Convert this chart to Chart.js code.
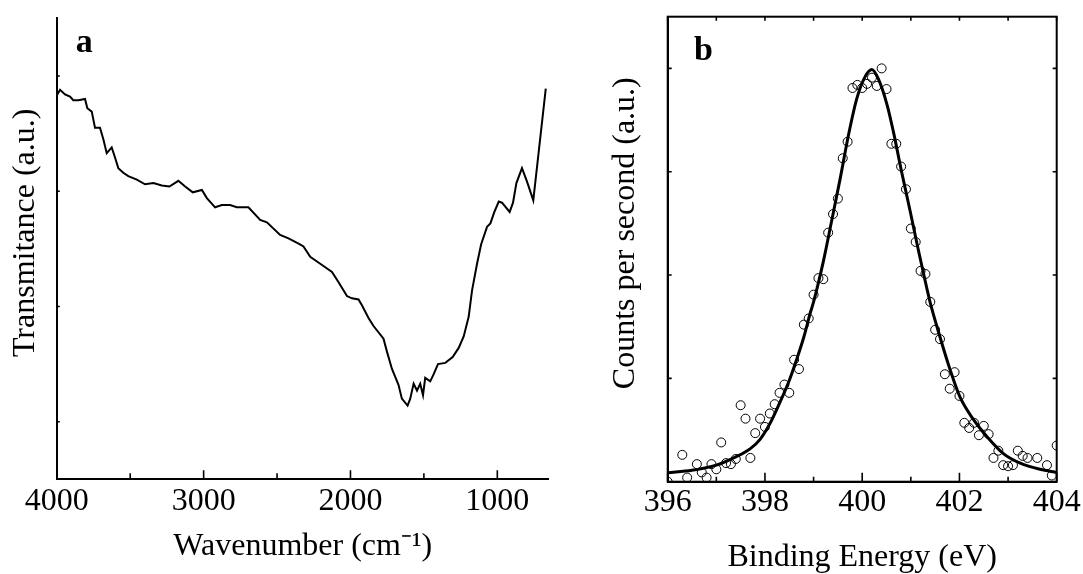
<!DOCTYPE html>
<html><head><meta charset="utf-8">
<script src="https://cdn.jsdelivr.net/npm/chart.js@4.4.0/dist/chart.umd.min.js"></script>
<style>
html,body{margin:0;padding:0;background:#fff;overflow:hidden;}
#wa{position:absolute;left:0;top:0;width:560px;height:574px;}
#wb{position:absolute;left:560px;top:0;width:523px;height:574px;}
</style></head><body>
<div id="wa"><canvas id="ca"></canvas></div>
<div id="wb"><canvas id="cb"></canvas></div>
<script>
// ---- Panel a: FTIR spectrum ----
const wavenumber = [4000,3978,3944,3910,3888,3853,3808,3792,3762,3740,3706,3683,3660,3626,3603,3581,3547,3513,3455,3399,3342,3285,3233,3172,3126,3074,3012,2978,2922,2876,2820,2774,2695,2615,2569,2479,2422,2347,2320,2274,2206,2126,2081,2024,1990,1945,1922,1877,1843,1775,1752,1718,1673,1650,1611,1593,1570,1547,1525,1506,1491,1457,1434,1404,1354,1304,1263,1229,1195,1172,1138,1110,1070,1047,1020,990,968,916,893,870,832,797,755,670];
const transmittance = [3.83,3.88,3.84,3.82,3.79,3.79,3.80,3.72,3.69,3.55,3.55,3.45,3.33,3.38,3.29,3.20,3.16,3.13,3.10,3.06,3.07,3.05,3.04,3.09,3.04,2.99,3.01,2.94,2.86,2.88,2.88,2.86,2.86,2.75,2.73,2.62,2.59,2.54,2.52,2.43,2.37,2.30,2.21,2.09,2.07,2.06,2.01,1.90,1.83,1.72,1.61,1.46,1.32,1.20,1.14,1.20,1.33,1.27,1.33,1.23,1.38,1.35,1.41,1.50,1.51,1.56,1.64,1.74,1.91,2.14,2.37,2.54,2.69,2.72,2.82,2.91,2.90,2.82,2.90,3.07,3.20,3.08,2.92,3.89];
const ftirTickLabels = [4000,3000,2000,1000];
const ftirMinorTicks = [3500,2500,1500];
const ftirYTicks = [1,2,3,4];

// ---- Panel b: XPS N1s ----
const bindingEnergy = [396.0,396.3,396.4,396.6,396.7,396.8,396.9,397.0,397.1,397.2,397.3,397.4,397.5,397.6,397.7,397.8,397.9,398.0,398.1,398.2,398.3,398.4,398.5,398.6,398.7,398.8,398.9,399.0,399.1,399.2,399.3,399.4,399.5,399.6,399.7,399.8,399.9,400.0,400.1,400.2,400.3,400.4,400.5,400.6,400.7,400.8,400.9,401.0,401.1,401.2,401.3,401.4,401.5,401.6,401.7,401.8,401.9,402.0,402.1,402.2,402.3,402.4,402.5,402.6,402.7,402.8,402.9,403.0,403.1,403.2,403.3,403.4,403.6,403.8,403.9,404.0];
const counts = [0.00,0.26,0.04,0.17,0.09,0.04,0.17,0.12,0.38,0.18,0.17,0.22,0.74,0.61,0.23,0.47,0.61,0.53,0.66,0.75,0.86,0.94,0.86,1.18,1.09,1.52,1.58,1.81,1.97,1.96,2.41,2.59,2.74,3.13,3.29,3.81,3.84,3.81,3.85,3.91,3.83,4.00,3.80,3.27,3.27,3.05,2.83,2.45,2.32,2.04,2.01,1.74,1.47,1.38,1.04,0.90,1.06,0.83,0.57,0.52,0.57,0.45,0.54,0.46,0.23,0.30,0.16,0.15,0.16,0.30,0.25,0.23,0.23,0.16,0.06,0.35];
const fitEnergy = [396.0,396.5,397.0,397.4,397.7,397.9,398.1,398.3,398.5,398.65,398.8,398.93,399.0,399.2,399.37,399.55,399.72,399.89,400.06,400.2,400.33,400.51,400.64,400.81,400.99,401.16,401.33,401.4,401.6,401.81,402.01,402.29,402.56,402.91,403.25,403.66,404.0];
const fitCounts = [0.087,0.11,0.16,0.24,0.32,0.41,0.56,0.76,0.98,1.18,1.40,1.63,1.74,2.13,2.52,2.94,3.36,3.71,3.92,3.99,3.90,3.65,3.39,3.00,2.61,2.23,1.87,1.73,1.40,1.08,0.82,0.60,0.44,0.27,0.18,0.12,0.09];
const xpsMajorTicks = [396,398,400,402,404];
const xpsMinorTicks = [397,399,401,403];
const xpsYTicks = [1,2,3,4];

const FAMILY = "'Liberation Serif','Times New Roman',serif";

const deco = {
  id: 'deco',
  afterDraw(chart, args, o) {
    const ctx = chart.ctx;
    const {left, right, top, bottom} = chart.chartArea;
    const xs = chart.scales.x, ys = chart.scales.y;
    ctx.save();
    ctx.strokeStyle = '#000';
    ctx.lineWidth = 2;
    if (o.frame) ctx.strokeRect(left, top, right - left, bottom - top);
    ctx.lineWidth = 1.6;
    ctx.beginPath();
    (o.bottomMajor || []).forEach(v => { const p = xs.getPixelForValue(v); ctx.moveTo(p, bottom); ctx.lineTo(p, bottom - o.majorLen); });
    (o.bottomMinor || []).forEach(v => { const p = xs.getPixelForValue(v); ctx.moveTo(p, bottom); ctx.lineTo(p, bottom - o.minorLen); });
    (o.topTicks || []).forEach(v => { const p = xs.getPixelForValue(v); ctx.moveTo(p, top); ctx.lineTo(p, top + o.sideLen); });
    (o.leftTicks || []).forEach(v => { const p = ys.getPixelForValue(v); ctx.moveTo(left, p); ctx.lineTo(left + o.sideLen, p); });
    (o.rightTicks || []).forEach(v => { const p = ys.getPixelForValue(v); ctx.moveTo(right, p); ctx.lineTo(right - o.sideLen, p); });
    ctx.stroke();
    ctx.fillStyle = '#000';
    ctx.font = "bold 34px " + FAMILY;
    ctx.textBaseline = 'alphabetic';
    ctx.fillText(o.letter, left + o.letterDx, top + o.letterDy);
    ctx.restore();
  }
};

function axisFont(size){ return {family: FAMILY, size: size}; }
const plainLabel = v => String(v);

new Chart(document.getElementById('ca'), {
  type: 'line',
  data: { datasets: [{
    data: wavenumber.map((w, i) => ({x: w, y: transmittance[i]})),
    borderColor: '#000', borderWidth: 2, pointRadius: 0, tension: 0, fill: false
  }]},
  options: {
    responsive: true, maintainAspectRatio: false, animation: false,
    layout: {padding: {left: 0, top: 18.3, right: 11.3, bottom: 0}},
    plugins: {
      legend: {display: false}, tooltip: {enabled: false},
      deco: {frame: false, bottomMajor: ftirTickLabels, bottomMinor: ftirMinorTicks, leftTicks: ftirYTicks,
             majorLen: 9, minorLen: 6, sideLen: 3, letter: 'a', letterDx: 19, letterDy: 33.4}
    },
    scales: {
      x: {
        type: 'linear', reverse: true, min: 650, max: 4000,
        afterFit(s){ s.height = 94.7; },
        afterBuildTicks(s){ s.ticks = ftirTickLabels.map(v => ({value: v})); },
        grid: {display: true, drawOnChartArea: false, drawTicks: false},
        border: {display: true, color: '#000', width: 2},
        ticks: {color: '#000', font: axisFont(32), padding: 3, maxRotation: 0, autoSkip: false, callback: plainLabel},
        title: {display: true, text: 'Wavenumber (cm⁻¹)', color: '#000',
                font: {family: FAMILY, size: 32, lineHeight: 1}, padding: {top: 0, bottom: 11}}
      },
      y: {
        type: 'linear', min: 0.5, max: 4.5,
        afterFit(s){ s.width = 56.8; },
        grid: {display: true, drawOnChartArea: false, drawTicks: false},
        border: {display: true, color: '#000', width: 2},
        ticks: {display: false},
        title: {display: true, text: '    Transmitance (a.u.)', color: '#000',
                font: {family: FAMILY, size: 32, lineHeight: 1}, padding: {top: 10, bottom: 0}}
      }
    }
  },
  plugins: [deco]
});

new Chart(document.getElementById('cb'), {
  type: 'line',
  data: { datasets: [
    {
      data: fitEnergy.map((e, i) => ({x: e, y: fitCounts[i]})),
      borderColor: '#000', borderWidth: 3, pointRadius: 0, cubicInterpolationMode: 'monotone', fill: false
    },
    {
      data: bindingEnergy.map((e, i) => ({x: e, y: counts[i]})),
      showLine: false, pointRadius: 4.5, pointStyle: 'circle', pointBorderWidth: 1,
      pointBorderColor: '#000', pointBackgroundColor: 'rgba(0,0,0,0)', clip: 0
    }
  ]},
  options: {
    responsive: true, maintainAspectRatio: false, animation: false,
    layout: {padding: {left: 0, top: 16.7, right: 26.3, bottom: 0}},
    plugins: {
      legend: {display: false}, tooltip: {enabled: false},
      deco: {frame: true, bottomMajor: xpsMajorTicks, bottomMinor: xpsMinorTicks,
             topTicks: xpsMajorTicks.concat(xpsMinorTicks), leftTicks: xpsYTicks, rightTicks: xpsYTicks,
             majorLen: 9, minorLen: 5, sideLen: 4, letter: 'b', letterDx: 26.3, letterDy: 43.3}
    },
    scales: {
      x: {
        type: 'linear', min: 396, max: 404,
        afterFit(s){ s.height = 92.3; },
        afterBuildTicks(s){ s.ticks = xpsMajorTicks.map(v => ({value: v})); },
        grid: {display: true, drawOnChartArea: false, drawTicks: false},
        border: {display: true, color: '#000', width: 2},
        ticks: {color: '#000', font: axisFont(32), padding: 2, maxRotation: 0, autoSkip: false, callback: plainLabel},
        title: {display: true, text: 'Binding Energy (eV)', color: '#000',
                font: {family: FAMILY, size: 32, lineHeight: 1}, padding: {top: 0, bottom: 0}}
      },
      y: {
        type: 'linear', min: 0, max: 4.5,
        afterFit(s){ s.width = 107.7; },
        grid: {display: true, drawOnChartArea: false, drawTicks: false},
        border: {display: true, color: '#000', width: 2},
        ticks: {display: false},
        title: {display: true, text: '    Counts per second (a.u.)', color: '#000',
                font: {family: FAMILY, size: 32, lineHeight: 1}, padding: {top: 50, bottom: 0}}
      }
    }
  },
  plugins: [deco]
});
</script>
</body></html>
